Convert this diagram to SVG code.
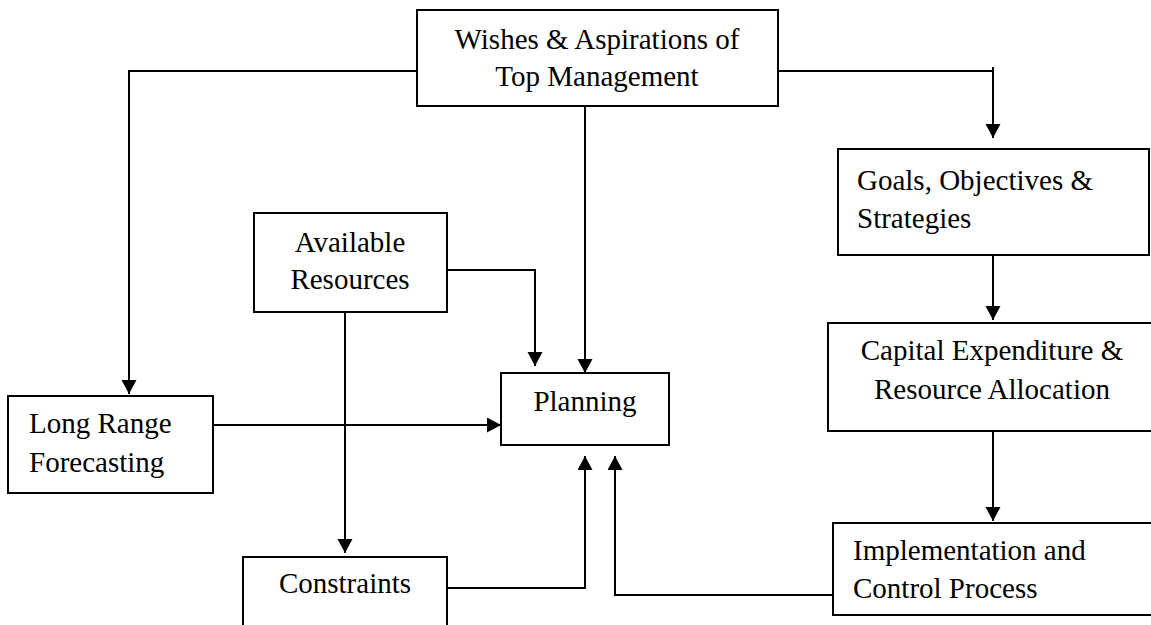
<svg xmlns="http://www.w3.org/2000/svg" width="1151" height="625" viewBox="0 0 1151 625">
<style>
.box{fill:#fff;stroke:#000;stroke-width:2}
.t{font-family:"Liberation Serif","Times New Roman",serif;font-size:29px;fill:#000}
.c{text-anchor:middle}
.conn path{fill:none;stroke:#000;stroke-width:2}
</style>
<defs>
<marker id="ah" markerUnits="userSpaceOnUse" markerWidth="16" markerHeight="16" refX="14" refY="7.5" orient="auto" viewBox="0 0 16 16">
<path d="M0,0 L14,7.5 L0,15 Z" fill="#000"/>
</marker>
</defs>
<rect width="1151" height="625" fill="#fff"/>
<g id="connectors" class="conn">
<path d="M417,71 H129 V394" marker-end="url(#ah)"/>
<path d="M585,106 V373" marker-end="url(#ah)"/>
<path d="M778,71 H993 M993,67 V138" marker-end="url(#ah)"/>
<path d="M993,255 V320" marker-end="url(#ah)"/>
<path d="M993,431 V521" marker-end="url(#ah)"/>
<path d="M447,270 H535 V366" marker-end="url(#ah)"/>
<path d="M345,312 V553" marker-end="url(#ah)"/>
<path d="M213,425 H501" marker-end="url(#ah)"/>
<path d="M447,588 H585 V456" marker-end="url(#ah)"/>
<path d="M833,595 H615 V456" marker-end="url(#ah)"/>
</g>
<g id="top">
<rect class="box" x="417" y="10" width="361" height="96"/>
<text class="t c" x="597" y="49">Wishes &amp; Aspirations of</text>
<text class="t c" x="597" y="86">Top Management</text>
</g>
<g id="goals">
<rect class="box" x="838" y="149" width="311" height="106"/>
<text class="t" x="857" y="190">Goals, Objectives &amp;</text>
<text class="t" x="857" y="228">Strategies</text>
</g>
<g id="capital">
<rect class="box" x="828" y="323" width="340" height="108"/>
<text class="t c" x="992" y="360">Capital Expenditure &amp;</text>
<text class="t c" x="992" y="399">Resource Allocation</text>
</g>
<g id="implementation">
<rect class="box" x="833" y="523" width="340" height="92"/>
<text class="t" x="853" y="560">Implementation and</text>
<text class="t" x="853" y="598">Control Process</text>
</g>
<g id="available">
<rect class="box" x="254" y="213" width="193" height="99"/>
<text class="t c" x="350" y="252">Available</text>
<text class="t c" x="350" y="289">Resources</text>
</g>
<g id="planning">
<rect class="box" x="501" y="373" width="168" height="72"/>
<text class="t c" x="585" y="411">Planning</text>
</g>
<g id="longrange">
<rect class="box" x="8" y="396" width="205" height="97"/>
<text class="t" x="29" y="433">Long Range</text>
<text class="t" x="29" y="472">Forecasting</text>
</g>
<g id="constraints">
<rect class="box" x="243" y="557" width="204" height="80"/>
<text class="t c" x="345" y="593">Constraints</text>
</g>
</svg>
